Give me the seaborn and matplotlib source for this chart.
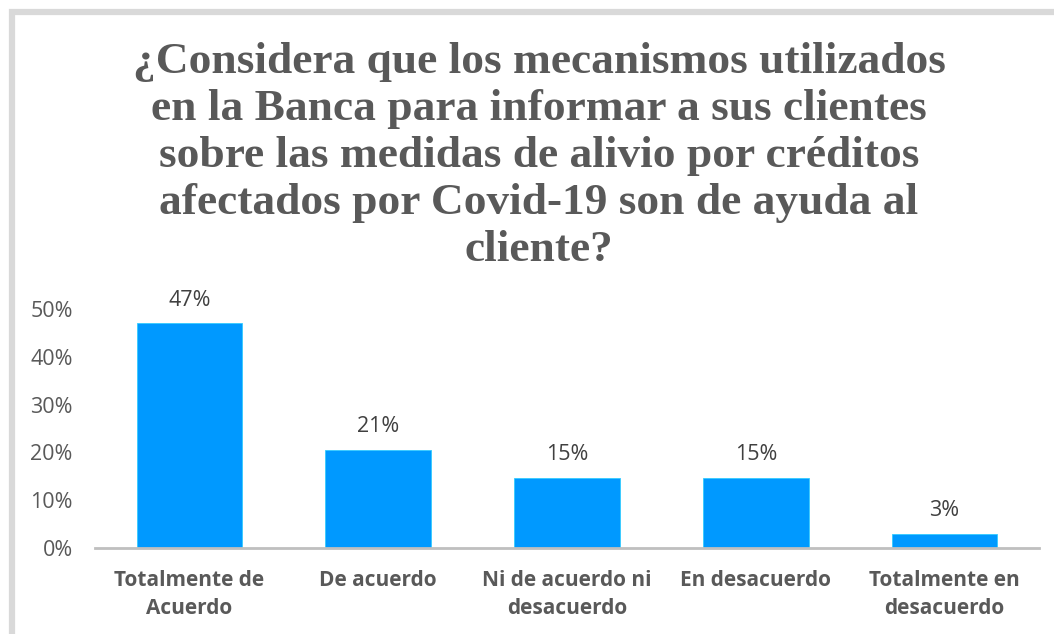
import matplotlib
matplotlib.use("Agg")
import matplotlib.pyplot as plt
import seaborn as sns
import pandas as pd
from matplotlib.patches import Rectangle
from matplotlib.ticker import PercentFormatter, MultipleLocator

categories = ["Totalmente de\nAcuerdo", "De acuerdo", "Ni de acuerdo ni\ndesacuerdo",
              "En desacuerdo", "Totalmente en\ndesacuerdo"]
values = [16/34, 7/34, 5/34, 5/34, 1/34]
title = ("¿Considera que los mecanismos utilizados\n"
         "en la Banca para informar a sus clientes\n"
         "sobre las medidas de alivio por créditos\n"
         "afectados por Covid-19 son de ayuda al\n"
         "cliente?")

df = pd.DataFrame({"cat": categories, "val": values})

sns.set_theme(style="white")
plt.rcParams["font.family"] = ["Open Sans", "DejaVu Sans"]

W, H = 1054, 634
fig = plt.figure(figsize=(W/100, H/100), dpi=100)
ax = fig.add_axes([95/W, 1-548/H, (1039-95)/W, (548-309)/H])

sns.barplot(data=df, x="cat", y="val", ax=ax, color="#0099FF", width=0.56,
            edgecolor="#33CCFF", linewidth=0.6, saturation=1)

ax.set_ylim(0, 0.5)
ax.yaxis.set_major_locator(MultipleLocator(0.1))
ax.yaxis.set_major_formatter(PercentFormatter(1.0, decimals=0))
ax.set_xlabel("")
ax.set_ylabel("")
for s in ["top", "right", "left"]:
    ax.spines[s].set_visible(False)
ax.spines["bottom"].set_color("#BFBFBF")
ax.spines["bottom"].set_linewidth(2)
ax.tick_params(axis="y", length=0, labelsize=15.5, labelcolor="#595959", pad=16)
ax.tick_params(axis="x", length=0, labelsize=15, labelcolor="#595959", pad=16)
for lab in ax.get_xticklabels():
    lab.set_fontweight("bold")
    lab.set_linespacing(1.42)
ax.set_facecolor("none")

for c in ax.containers:
    ax.bar_label(c, labels=[f"{v*100:.0f}%" for v in values], padding=9,
                 fontsize=15.5, color="#404040")

fig.text(539/W, 1-156/H, title, ha="center", va="center", fontsize=32.7,
         fontweight="bold", family=["Liberation Serif", "DejaVu Serif"],
         color="#595959", linespacing=1.23)

fig.patches.append(Rectangle((12/W, -0.1), 1.2, 1-11.5/H+0.1, transform=fig.transFigure,
                             fill=False, edgecolor="#D9D9D9", linewidth=4.5))

fig.savefig("out.png", dpi=100)
